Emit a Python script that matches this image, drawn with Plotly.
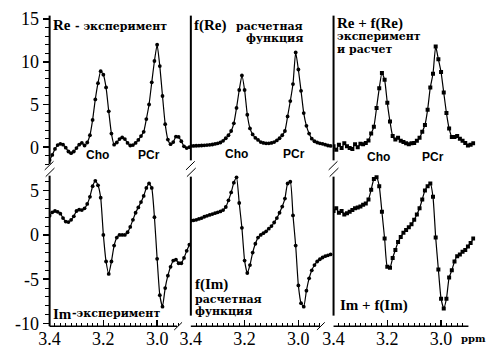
import plotly.graph_objects as go

# ---------------- data ----------------
ppm = [3.40, 3.39, 3.38, 3.37, 3.36, 3.35, 3.34, 3.33, 3.32, 3.31,
       3.30, 3.29, 3.28, 3.27, 3.26, 3.25, 3.24, 3.23, 3.22, 3.21,
       3.20, 3.19, 3.18, 3.17, 3.16, 3.15, 3.14, 3.13, 3.12, 3.11,
       3.10, 3.09, 3.08, 3.07, 3.06, 3.05, 3.04, 3.03, 3.02, 3.01,
       3.00, 2.99, 2.98, 2.97, 2.96, 2.95, 2.94, 2.93, 2.92, 2.91,
       2.90, 2.89, 2.88]

re_exp = [-1.5, -0.9, -0.2, 0.25, 0.4, 0.3, -0.05, -0.5, -0.7, -0.5,
          -0.1, 0.3, 0.5, 0.2, 0.55, 1.4, 3.2, 5.6, 7.5, 8.9,
          8.5, 7.0, 4.2, 1.6, 0.3, 0.55, 0.95, 1.15, 0.95, 0.5,
          0.2, 0.25, 0.5, 0.85, 1.3, 1.8, 3.3, 5.0, 7.6, 10.1,
          12.0, 9.5, 6.0, 2.7, 0.9, 0.35, 0.6, 1.25, 1.2, 0.7,
          0.1, -0.1, 0.0]

re_fit = [0.15, 0.15, 0.17, 0.18, 0.2, 0.22, 0.25, 0.28, 0.32, 0.38,
          0.45, 0.55, 0.75, 1.05, 1.4, 1.9, 2.8, 4.6, 6.7, 8.4,
          6.7, 3.8, 2.2, 1.5, 1.1, 0.85, 0.6, 0.5, 0.45, 0.45,
          0.5, 0.6, 0.8, 1.05, 1.4, 1.9, 3.6, 5.4, 7.4, 11.1,
          9.1, 6.6, 4.0, 2.5, 1.6, 1.0, 0.7, 0.55, 0.45, 0.4,
          0.3, 0.2, 0.15]

re_sum = [0.1, -0.3, 0.3, -0.1, 0.45, 0.1, -0.1, -0.2, 0.35, 0.0,
          0.4, 0.35, 0.5, 0.8, 1.6, 2.4, 4.6, 6.9, 8.7, 7.9,
          5.2, 3.0, 1.3, 0.9, 1.1, 0.75, 0.6, 0.45, 0.35, 0.45,
          0.5, 0.75, 1.1, 1.8, 2.6, 4.4, 7.0, 8.6, 11.8, 10.3,
          8.8, 6.4, 4.0, 2.2, 1.2, 1.2, 1.3, 1.0, 0.75, 0.5,
          0.2, 0.3, 0.45]

im_exp = [2.15, 2.55, 2.7, 2.6, 2.4, 1.9, 1.5, 1.45, 1.7, 2.1,
          2.7, 2.85, 2.8, 3.0, 3.5, 4.3, 5.5, 6.1, 5.6, 4.2,
          0.0, -3.0, -4.4, -3.0, -1.2, -0.3, 0.0, 0.0, 0.0, 0.3,
          0.9, 1.7, 2.5, 3.1, 3.7, 4.4, 5.3, 5.8, 5.3, 2.0,
          -2.7, -6.8, -8.1, -6.0, -4.6, -3.6, -2.9, -2.8, -3.2, -3.2,
          -2.6, -1.8, -1.1]

im_fit = [1.6, 1.65, 1.7, 1.8, 1.9, 2.05, 2.15, 2.25, 2.35, 2.45,
          2.55, 2.65, 2.8, 3.15, 3.9, 4.8, 5.9, 6.5, 3.6, 0.8,
          -2.9, -4.3, -3.4, -2.0, -1.0, -0.3, 0.0, 0.2, 0.4, 0.7,
          1.0, 1.4, 1.9, 2.5, 3.2, 4.1, 5.8, 6.0, 2.2, -1.2,
          -5.7, -7.7, -8.1, -6.3, -4.9, -4.0, -3.4, -3.0, -2.75, -2.55,
          -2.4, -2.3, -2.2]

im_sum = [2.7, 3.0, 2.5, 2.7, 2.3, 2.45, 2.6, 2.8, 3.0, 3.1,
          3.2, 3.4, 3.55, 4.0, 5.1, 6.3, 6.5, 5.5, 2.6, -0.4,
          -3.6, -3.7, -2.6, -1.7, -0.8, -0.25, 0.25, 0.55, 0.85, 1.2,
          1.7, 2.3, 3.0, 4.0, 5.0, 5.5, 5.8, 4.3, -0.3, -3.9,
          -7.2, -8.3, -7.2, -4.8, -4.0, -3.0, -2.4, -2.2, -1.9, -1.7,
          -1.3, -0.9, -0.4]

x_tick_vals = [3.4, 3.2, 3.0]
x_tick_text = ["3.4", "3.2", "3.0"]
y_tick_vals_top = [0, 5, 10, 15]
y_tick_vals_bot = [-10, -5, 0, 5]

# ---------------- layout geometry (pixels) ----------------
W, H = 487, 361
PX_PER_PPM = 275.0
col_px = [(39.5, 184.0), (184.0, 330.0), (330.0, 475.0)]
row_px = [(10.0, 165.0), (174.0, 333.0)]
y_ranges = [[-2.1, 15.3], [-10.3, 6.9]]
SERIF = "'Liberation Serif', 'Times New Roman', serif"
WIDE = "'DejaVu Serif', serif"
SANS = "'Liberation Sans', Arial, sans-serif"


def fx(p):
    return p / W


def fy(p):
    return 1 - p / H


series = [[re_exp, re_fit, re_sum], [im_exp, im_fit, im_sum]]
fig = go.Figure()
layout_axes = {}
minor_x = [round(3.38 - 0.02 * i, 2) for i in range(24) if round(3.38 - 0.02 * i, 2) not in (3.2, 3.0)]

k = 0
for r in range(2):
    for c in range(3):
        k += 1
        sx = "" if k == 1 else str(k)
        x0, x1 = col_px[c]
        y0, y1 = row_px[r]
        xr = [3.4, 3.4 - (x1 - x0) / PX_PER_PPM]
        fig.add_trace(go.Scatter(
            x=ppm, y=series[r][c], xaxis="x" + sx, yaxis="y" + sx,
            mode="lines+markers", showlegend=False, hoverinfo="skip",
            line=dict(color="black", width=1.2, shape="spline", smoothing=0.5),
            marker=dict(size=3.8 if c < 2 else 4, color="black",
                        symbol="circle" if c < 2 else "square"),
        ))
        xa = dict(domain=[fx(x0), fx(x1)], range=xr, anchor="y" + sx,
                  showgrid=False, zeroline=False, showline=False, fixedrange=True)
        if r == 1:
            xa.update(tickmode="array", tickvals=x_tick_vals, ticktext=x_tick_text,
                      ticks="inside", ticklen=6, tickwidth=1.5, tickcolor="black",
                      tickfont=dict(family=SERIF, size=18, color="black"),
                      minor=dict(tickmode="array", tickvals=minor_x, ticks="inside",
                                 ticklen=3.5, tickwidth=1, tickcolor="black"))
        else:
            xa.update(showticklabels=False, ticks="")
        ya = dict(domain=[fy(y1), fy(y0)], range=y_ranges[r], anchor="x" + sx,
                  showgrid=False, zeroline=False, showline=False, fixedrange=True)
        if c == 0:
            vals = y_tick_vals_top if r == 0 else y_tick_vals_bot
            ya.update(tickmode="array", tickvals=vals, ticktext=[str(v) for v in vals],
                      ticks="outside", ticklen=6, tickwidth=1.5, tickcolor="black",
                      tickfont=dict(family=SERIF, size=18, color="black"),
                      minor=dict(dtick=1, ticks="outside", ticklen=3.5, tickwidth=1,
                                 tickcolor="black"))
        else:
            ya.update(showticklabels=False, ticks="")
        layout_axes["xaxis" + sx] = xa
        layout_axes["yaxis" + sx] = ya

# ---------------- axis lines and break marks ----------------
shapes = []


def seg(xa, ya, xb, yb, w=2):
    shapes.append(dict(type="line", xref="paper", yref="paper",
                       x0=fx(xa), y0=fy(ya), x1=fx(xb), y1=fy(yb),
                       line=dict(color="black", width=w)))


seg(39.5, 9, 39.5, 164)
seg(39.5, 176, 39.5, 333)
seg(184, 9, 184, 160)
seg(184, 177, 184, 322)
seg(330, 9, 330, 160)
seg(330, 177, 330, 322)
seg(39.5, 333, 170, 333, 1.5)
seg(184, 333, 316, 333, 1.5)
seg(330, 333, 468, 333, 1.5)
for xb in (39.5, 184, 330):
    seg(xb - 5, 170, xb + 4, 161, 1)
    seg(xb - 4, 177, xb + 5, 168, 1)
seg(167, 337, 175, 329, 1)
seg(313, 337, 321, 329, 1)

# ---------------- texts ----------------
annotations = []


def txt(s, x, y, size=12, family=WIDE, anchor="left"):
    annotations.append(dict(text=s, xref="paper", yref="paper", x=fx(x), y=fy(y),
                            xanchor=anchor, yanchor="middle", showarrow=False,
                            borderpad=0,
                            font=dict(family=family, size=size, color="black")))


# panel 1
txt("<b>Re</b>", 42, 19, 15, SERIF)
txt("<b>- эксперимент</b>", 64, 20, 11)
txt("<b>Cho</b>", 89, 154, 12, SANS, "center")
txt("<b>PCr</b>", 141, 154, 12, SANS, "center")
# panel 2
txt("<b>f(Re)</b>", 186, 19, 15, SERIF)
txt("<b>расчетная</b>", 300, 20, 11, WIDE, "right")
txt("<b>функция</b>", 300, 33, 11, WIDE, "right")
txt("<b>Cho</b>", 231, 153, 12, SANS, "center")
txt("<b>PCr</b>", 290, 153, 12, SANS, "center")
# panel 3
txt("<b>Re + f(Re)</b>", 332, 17, 15, SERIF)
txt("<b>эксперимент</b>", 332, 31, 11)
txt("<b>и расчет</b>", 332, 44, 11)
txt("<b>Cho</b>", 376, 157, 12, SANS, "center")
txt("<b>PCr</b>", 432, 157, 12, SANS, "center")
# panel 4
txt("<b>Im</b>", 42, 320, 15, SERIF)
txt("<b>-эксперимент</b>", 61, 320, 11)
# panel 5
txt("<b>f(Im)</b>", 187, 290, 15, SERIF)
txt("<b>расчетная</b>", 187, 305, 11)
txt("<b>функция</b>", 187, 318, 11)
# panel 6
txt("<b>Im + f(Im)</b>", 336, 311, 15, SERIF)
# axis unit
txt("<b>ppm</b>", 459, 346, 10, WIDE)

fig.update_layout(
    width=W, height=H,
    margin=dict(l=0, r=0, t=0, b=0),
    paper_bgcolor="white", plot_bgcolor="rgba(0,0,0,0)",
    shapes=shapes, annotations=annotations,
    **layout_axes,
)

fig.write_html(
    "out.html",
    config={"displayModeBar": False, "staticPlot": True},
    post_script="document.body.style.margin='0';document.body.style.padding='0';"
                "document.body.style.overflow='hidden';",
)
